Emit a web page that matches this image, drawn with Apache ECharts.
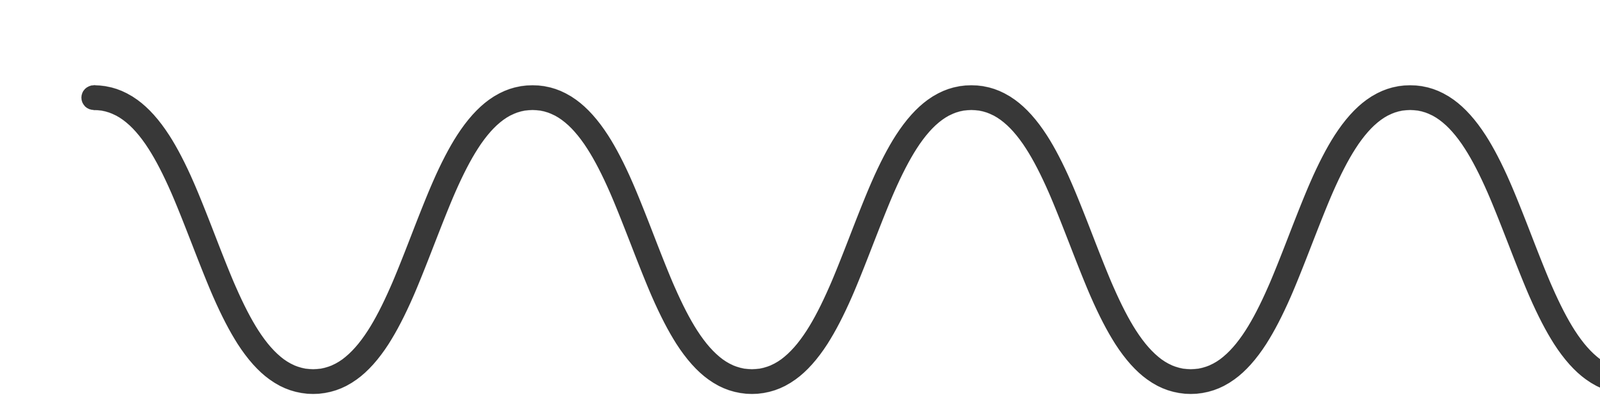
<!DOCTYPE html>
<html>
<head>
<meta charset="utf-8">
<title>wave</title>
<script src="https://cdn.jsdelivr.net/npm/echarts@6/dist/echarts.min.js"></script>
<style>
    html, body {margin:0; padding:0; background:#fff;}
    #wave {width:7120px; height:1060px;}
</style>
</head>
<body>
<div id="wave"></div>
<script>
// 波浪线：峰 1，谷 0；两端各多一个谷点，只用来让端点切线保持水平
var xData = [-1, 0, 1, 2, 3, 4, 5, 6, 7, 8, 9, 10, 11, 12, 13];
var waveData = [0, 1, 0, 1, 0, 1, 0, 1, 0, 1, 0, 1, 0, 1, 0];
// 可见范围
var viewMin = 0;
var viewMax = 12;

window.onload = function(){
    waveChart("wave");
};
function waveChart(id){
    var chart = echarts.init(document.getElementById(id));
    var lineData = xData.map(function(x, i){
        return [x, waveData[i]];
    });
    // 两端的圆头
    var capData = lineData.filter(function(d){
        return d[0] === viewMin || d[0] === viewMax;
    });
    var option = {
        animation: false,
        backgroundColor: '#fff',
        grid: {
            top: 250,
            left: 240,
            right: 140,
            bottom: 83
        },
        xAxis : [{
            type : 'value',
            min: viewMin,
            max: viewMax,
            show: false
        }],
        yAxis : [{
            type : 'value',
            min: 0,
            max: 1,
            show: false
        }],
        visualMap: {
            type: 'piecewise',
            show: false,
            dimension: 0,
            seriesIndex: 0,
            pieces: [{gte: viewMin, lte: viewMax, color: '#383838'}],
            outOfRange: {color: 'rgba(56, 56, 56, 0)'}
        },
        series : [
            {
                name:'wave',
                type:'line',
                smooth: true,
                symbol: 'none',
                clip: false,
                z: 3,
                // 颜色交给 visualMap，两端以外透明
                lineStyle: {
                    width: 63,
                    join: 'round',
                    shadowColor: 'rgba(0, 0, 0, 0.25)',
                    shadowBlur: 3
                },
                data: lineData
            },
            {
                name:'cap',
                type:'scatter',
                symbol: 'circle',
                symbolSize: 63,
                clip: false,
                z: 2,
                itemStyle: {
                    color: '#383838',
                    opacity: 1,
                    shadowColor: 'rgba(0, 0, 0, 0.25)',
                    shadowBlur: 3
                },
                data: capData
            }
        ]
    };
    chart.setOption(option);
    window.addEventListener("resize", function(){
        chart.resize();
    });
}
</script>
</body>
</html>
